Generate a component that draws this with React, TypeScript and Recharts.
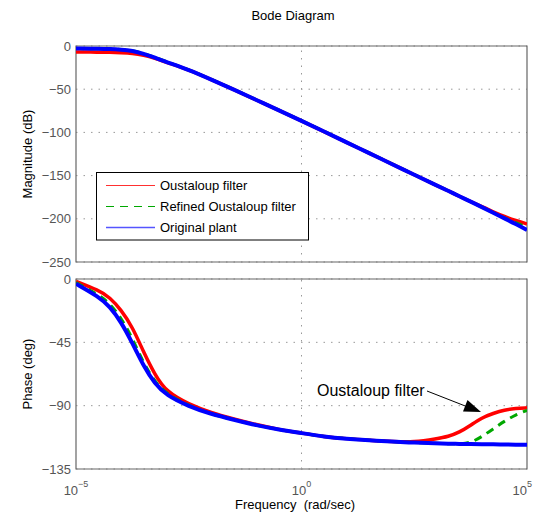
import React from 'react';
import { LineChart, Line, XAxis, YAxis, CartesianGrid, ReferenceArea, ReferenceLine } from 'recharts';

// frequency points (rad/sec), roughly half / quarter decade steps
const freq = [
  1e-5, 3.16e-5, 5.62e-5, 1e-4, 1.78e-4, 3.16e-4, 5.62e-4, 1e-3, 3.16e-3, 1e-2, 3.16e-2, 0.1, 0.316, 1,
  3.16, 10, 31.6, 100, 316, 1000, 1780, 3160, 5620, 1e4, 1.78e4, 3.16e4, 5.62e4, 1e5,
];

// magnitude (dB)
const magOustaloup = [
  -7, -7.1, -7.3, -7.8, -8.5, -10.5, -14, -18.8, -27.5, -38.8, -50.5, -62.5, -74.5, -86.6,
  -99, -111.5, -124, -136.5, -149, -161.5, -167.5, -174, -180, -186, -192, -197.5, -202, -206,
];
const magRefined = [
  -3, -3.2, -3.4, -4, -5.2, -8.5, -13, -18.2, -27.3, -38.6, -50.3, -62.3, -74.3, -86.4,
  -98.8, -111.3, -123.8, -136.3, -148.8, -161.3, -167.3, -173.8, -180, -186.5, -193, -199, -204.5, -210,
];
const magPlant = [
  -3, -3.2, -3.5, -4.2, -5.5, -9, -13.5, -18.5, -27.5, -38.8, -50.5, -62.5, -74.5, -86.6,
  -99, -111.5, -124, -136.5, -149, -161.5, -167.5, -174, -180, -186.5, -193, -199.5, -206, -213,
];

// phase (deg)
const phaseOustaloup = [
  -1.7, -8, -13, -22, -34, -52, -68, -80, -89, -95, -99.5, -103.5, -107, -109.5,
  -112, -113.5, -114.5, -115.5, -116, -113.5, -112, -109, -104, -98.5, -95.5, -93, -92, -91.5,
];
const phaseRefined = [
  -2.6, -11, -17.5, -27.5, -42, -60, -73, -81.5, -90, -96, -100, -104, -107, -109.5,
  -112, -113.5, -114.6, -115.5, -116.3, -116.8, -117, -117.2, -116.5, -112, -106.5, -101, -96.5, -93.3,
];
const phasePlant = [
  -3.4, -12.5, -19.5, -30.5, -45.5, -62, -74.5, -82.5, -90.5, -96, -100, -104, -107, -109.5,
  -112, -113.5, -114.6, -115.5, -116.3, -116.8, -117, -117.2, -117.3, -117.4, -117.5, -117.6, -117.7, -117.7,
];

const magTicks = [-250, -200, -150, -100, -50, 0];
const phaseTicks = [-135, -90, -45, 0];
const freqTicks = [1e-5, 1, 1e5];

const FONT = '"Liberation Sans", Arial, Helvetica, sans-serif';
const GRID = '#999';
const FRAME = '#666';

const rows = freq.map((w, i) => ({
  w,
  magO: magOustaloup[i],
  magR: magRefined[i],
  magP: magPlant[i],
  phO: phaseOustaloup[i],
  phR: phaseRefined[i],
  phP: phasePlant[i],
}));

const minus = (v: number) => (v < 0 ? `\u2212${-v}` : `${v}`);

const DecadeTick = (props: any) => {
  const { x, y, payload } = props;
  const exp = Math.round(Math.log10(payload.value));
  // last label sits on the right edge, keep it inside the picture
  const last = exp === 5;
  return (
    <text x={last ? 532 : x} y={y + 26} textAnchor={last ? 'end' : 'middle'} fill="#555" fontSize={13} fontFamily={FONT}>
      <tspan>10</tspan>
      <tspan dy={-8} fontSize={9}>{minus(exp)}</tspan>
    </text>
  );
};

const tickStyle = { fill: '#555', fontSize: 13, fontFamily: FONT };

export default function App() {
  return (
    <div style={{ position: 'absolute', left: 0, top: 0, width: 533, height: 516, background: '#fff' }}>
      {/* Magnitude */}
      <div style={{ position: 'absolute', left: 0, top: 0 }}>
        <LineChart width={533} height={270} data={rows} margin={{ top: 46, right: 6, bottom: 8, left: 0 }}>
          <CartesianGrid vertical={false} stroke={GRID} strokeDasharray="1.5 6" />
          <XAxis dataKey="w" type="number" scale="log" domain={[1e-5, 1e5]} allowDataOverflow hide />
          <YAxis
            domain={[-250, 0]}
            ticks={magTicks}
            width={76}
            axisLine={false}
            tickLine={false}
            tickSize={0}
            tickMargin={5}
            tick={tickStyle}
            tickFormatter={minus}
          />
          <ReferenceLine x={1} stroke={GRID} strokeDasharray="1.5 6" />
          <Line dataKey="magO" type="basis" stroke="#ff0000" strokeWidth={3.5} dot={false} isAnimationActive={false} />
          <Line dataKey="magR" type="basis" stroke="#00a800" strokeWidth={3} strokeDasharray="8 6" dot={false} isAnimationActive={false} />
          <Line dataKey="magP" type="basis" stroke="#0000ff" strokeWidth={4} dot={false} isAnimationActive={false} />
          <ReferenceArea x1={1e-5} x2={1e5} y1={-250} y2={0} fill="none" stroke={FRAME} strokeWidth={1.2} />
        </LineChart>
      </div>

      {/* Phase */}
      <div style={{ position: 'absolute', left: 0, top: 270 }}>
        <LineChart width={533} height={246} data={rows} margin={{ top: 9, right: 6, bottom: 0, left: 0 }}>
          <CartesianGrid vertical={false} stroke={GRID} strokeDasharray="1.5 6" />
          <XAxis
            dataKey="w"
            type="number"
            scale="log"
            domain={[1e-5, 1e5]}
            allowDataOverflow
            ticks={freqTicks}
            interval={0}
            height={47}
            axisLine={false}
            tickLine={false}
            tickSize={0}
            tickMargin={0}
            tick={<DecadeTick />}
          />
          <YAxis
            domain={[-135, 0]}
            ticks={phaseTicks}
            width={76}
            axisLine={false}
            tickLine={false}
            tickSize={0}
            tickMargin={5}
            tick={tickStyle}
            tickFormatter={minus}
          />
          <ReferenceLine x={1} stroke={GRID} strokeDasharray="1.5 6" />
          <Line dataKey="phO" type="basis" stroke="#ff0000" strokeWidth={3.5} dot={false} isAnimationActive={false} />
          <Line dataKey="phR" type="basis" stroke="#00a800" strokeWidth={3} strokeDasharray="8 6" dot={false} isAnimationActive={false} />
          <Line dataKey="phP" type="basis" stroke="#0000ff" strokeWidth={4} dot={false} isAnimationActive={false} />
          <ReferenceArea x1={1e-5} x2={1e5} y1={-135} y2={0} fill="none" stroke={FRAME} strokeWidth={1.2} />
        </LineChart>
      </div>

      {/* titles, legend, annotation */}
      <svg width={533} height={516} style={{ position: 'absolute', left: 0, top: 0, pointerEvents: 'none' }} fontFamily={FONT}>
        <text x={293} y={20} textAnchor="middle" fontSize={13} fill="#000">Bode Diagram</text>
        <text x={27} y={154} transform="rotate(-90 27 154)" textAnchor="middle" dominantBaseline="central" fontSize={13} fill="#000">
          Magnitude (dB)
        </text>
        <text x={27} y={374} transform="rotate(-90 27 374)" textAnchor="middle" dominantBaseline="central" fontSize={13} fill="#000">
          Phase (deg)
        </text>
        <text x={295} y={509} textAnchor="middle" fontSize={13} fill="#000" style={{ whiteSpace: 'pre' }}>
          {'Frequency  (rad/sec)'}
        </text>

        <rect x={96.5} y={172.5} width={212} height={67.5} fill="#fff" stroke="#000" strokeWidth={1} />
        <line x1={106} x2={155} y1={185.5} y2={185.5} stroke="#ff3030" strokeWidth={1.2} />
        <line x1={106} x2={155} y1={206.5} y2={206.5} stroke="#00a800" strokeWidth={1.2} strokeDasharray="8 6" />
        <line x1={106} x2={155} y1={227.5} y2={227.5} stroke="#5555ff" strokeWidth={1.5} />
        <text x={160} y={185.5} dy="0.35em" fontSize={13} fill="#000">Oustaloup filter</text>
        <text x={160} y={206.5} dy="0.35em" fontSize={13} fill="#000">Refined Oustaloup filter</text>
        <text x={160} y={227.5} dy="0.35em" fontSize={13} fill="#000">Original plant</text>

        <text x={317} y={396} fontSize={16} fill="#000">Oustaloup filter</text>
        <line x1={427} y1={391} x2={467} y2={406.7} stroke="#000" strokeWidth={1} />
        <polygon points="481,412 463,411.5 467.5,400" fill="#000" />
      </svg>
    </div>
  );
}
